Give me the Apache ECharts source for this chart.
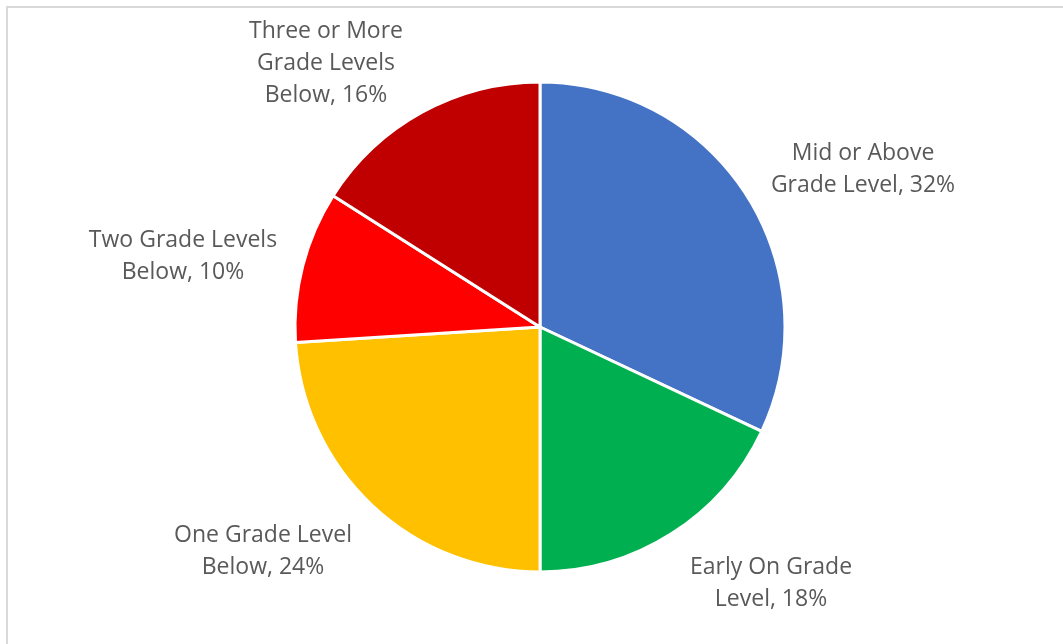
<!DOCTYPE html>
<html>
<head>
<meta charset="utf-8">
<script src="https://cdn.jsdelivr.net/npm/echarts@6/dist/echarts.min.js"></script>
<style>
  html, body { margin: 0; padding: 0; background: #ffffff; }
  #chart { width: 1063px; height: 644px; }
</style>
</head>
<body>
<div id="chart"></div>
<script>
// Reading level distribution, clockwise from 12 o'clock
const categories = [
  'Mid or Above\nGrade Level',
  'Early On Grade\nLevel',
  'One Grade Level\nBelow',
  'Two Grade Levels\nBelow',
  'Three or More\nGrade Levels\nBelow'
];
const shares = [32, 18, 24, 10, 16];
const colors = ['#4472C4', '#00B050', '#FFC000', '#FF0000', '#C00000'];

// Label anchor points (centre of each text block)
const labelSpots = [[863, 169], [771, 583], [263, 551], [183, 256], [326, 63]];

const chart = echarts.init(document.getElementById('chart'), null, { renderer: 'canvas' });

chart.setOption({
  backgroundColor: '#ffffff',
  animation: false,
  graphic: [{
    type: 'rect',
    shape: { x: 7, y: 7, width: 1200, height: 800 },
    style: { fill: 'none', stroke: '#d9d9d9', lineWidth: 2 },
    silent: true
  }],
  series: [{
    type: 'pie',
    center: [540, 327],
    radius: 245,
    startAngle: 90,
    clockwise: true,
    data: categories.map((name, i) => ({
      name: name,
      value: shares[i],
      itemStyle: { color: colors[i] }
    })),
    itemStyle: { borderColor: '#ffffff', borderWidth: 3 },
    label: {
      show: true,
      position: 'outside',
      formatter: p => p.name + ', ' + p.value + '%',
      fontFamily: '"Open Sans", "Liberation Sans", sans-serif',
      fontSize: 23,
      lineHeight: 32,
      color: '#595959',
      align: 'center'
    },
    labelLine: { show: false },
    labelLayout: function (params) {
      const s = labelSpots[params.dataIndex];
      return { x: s[0], y: s[1], align: 'center', verticalAlign: 'middle' };
    }
  }]
});
</script>
</body>
</html>
